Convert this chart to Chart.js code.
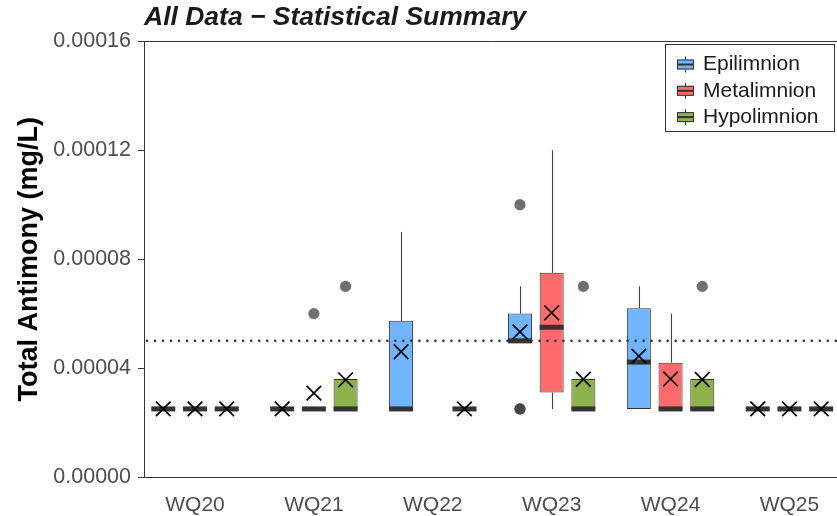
<!DOCTYPE html>
<html>
<head>
<meta charset="utf-8">
<script src="https://cdn.jsdelivr.net/npm/chart.js@4.4.1/dist/chart.umd.min.js"></script>
<style>
  html, body { margin: 0; padding: 0; background: #fff; overflow: hidden; }
  #wrap { width: 837px; height: 516px; }
</style>
</head>
<body>
<div id="wrap"><canvas id="chart"></canvas></div>
<script>
const sites = ["WQ20", "WQ21", "WQ22", "WQ23", "WQ24", "WQ25"];
const layers = ["Epilimnion", "Metalimnion", "Hypolimnion"];
const fillColors = ["#6FB5FF", "#FF6B6B", "#8DB14B"];
const guideline = 0.00005;
const yTickStep = 0.00004;

// five number summaries per site: [low whisker, q1, median, q3, high whisker]
const epiStats = [
  [2.5e-5, 2.5e-5, 2.5e-5, 2.5e-5, 2.5e-5],
  [2.5e-5, 2.5e-5, 2.5e-5, 2.5e-5, 2.5e-5],
  [2.5e-5, 2.5e-5, 2.5e-5, 5.74e-5, 9.0e-5],
  [5.0e-5, 5.0e-5, 5.0e-5, 6.0e-5, 7.0e-5],
  [2.5e-5, 2.5e-5, 4.22e-5, 6.2e-5, 7.0e-5],
  [2.5e-5, 2.5e-5, 2.5e-5, 2.5e-5, 2.5e-5]
];
const metaStats = [
  [2.5e-5, 2.5e-5, 2.5e-5, 2.5e-5, 2.5e-5],
  [2.5e-5, 2.5e-5, 2.5e-5, 2.5e-5, 2.5e-5],
  null,
  [2.5e-5, 3.1e-5, 5.5e-5, 7.5e-5, 1.2e-4],
  [2.5e-5, 2.5e-5, 2.5e-5, 4.2e-5, 6.0e-5],
  [2.5e-5, 2.5e-5, 2.5e-5, 2.5e-5, 2.5e-5]
];
const hypoStats = [
  [2.5e-5, 2.5e-5, 2.5e-5, 2.5e-5, 2.5e-5],
  [2.5e-5, 2.5e-5, 2.5e-5, 3.6e-5, 3.6e-5],
  [2.5e-5, 2.5e-5, 2.5e-5, 2.5e-5, 2.5e-5],
  [2.5e-5, 2.5e-5, 2.5e-5, 3.6e-5, 3.6e-5],
  [2.5e-5, 2.5e-5, 2.5e-5, 3.6e-5, 3.6e-5],
  [2.5e-5, 2.5e-5, 2.5e-5, 2.5e-5, 2.5e-5]
];

const epiMeans = [2.5e-5, 2.5e-5, 4.6e-5, 5.33e-5, 4.44e-5, 2.5e-5];
const metaMeans = [2.5e-5, 3.08e-5, null, 6.03e-5, 3.6e-5, 2.5e-5];
const hypoMeans = [2.5e-5, 3.57e-5, 2.5e-5, 3.59e-5, 3.58e-5, 2.5e-5];

const epiOutliers = [[], [], [], [1.0e-4, 2.5e-5, 2.5e-5], [], []];
const metaOutliers = [[], [6.0e-5], [], [], [], []];
const hypoOutliers = [[], [7.0e-5], [], [7.0e-5], [7.0e-5], []];

const allStats = [epiStats, metaStats, hypoStats];
const allMeans = [epiMeans, metaMeans, hypoMeans];
const allOutliers = [epiOutliers, metaOutliers, hypoOutliers];

const FONT = "'Liberation Sans', Arial, sans-serif";
const INK = "#333333";

const datasets = layers.map((name, k) => ({
  label: name,
  data: allStats[k]
    .map((s, i) => (s ? { x: i, y: [s[1], s[3]] } : null))
    .filter(d => d !== null),
  backgroundColor: fillColors[k],
  borderColor: INK,
  borderWidth: 1,
  borderSkipped: false,
  categoryPercentage: 0.8,
  barPercentage: 0.757
}));

const boxPlot = {
  id: "boxPlot",
  beforeDatasetsDraw(chart) {
    const ctx = chart.ctx;
    const y = chart.scales.y;
    ctx.save();
    ctx.strokeStyle = "#444";
    ctx.lineWidth = 1.1;
    chart.data.datasets.forEach((ds, k) => {
      chart.getDatasetMeta(k).data.forEach((bar, j) => {
        const s = allStats[k][ds.data[j].x];
        const x = Math.round(bar.x) + 0.5;
        ctx.beginPath();
        ctx.moveTo(x, y.getPixelForValue(s[0]));
        ctx.lineTo(x, y.getPixelForValue(s[1]));
        ctx.moveTo(x, y.getPixelForValue(s[3]));
        ctx.lineTo(x, y.getPixelForValue(s[4]));
        ctx.stroke();
      });
    });
    ctx.restore();
  },
  afterDatasetsDraw(chart) {
    const ctx = chart.ctx;
    const y = chart.scales.y;
    const area = chart.chartArea;
    ctx.save();
    // medians and outliers
    chart.data.datasets.forEach((ds, k) => {
      chart.getDatasetMeta(k).data.forEach((bar, j) => {
        const i = ds.data[j].x;
        const s = allStats[k][i];
        const half = bar.width / 2;
        ctx.fillStyle = INK;
        ctx.fillRect(bar.x - half, y.getPixelForValue(s[2]) - 2.5, bar.width, 5);
        ctx.fillStyle = "rgba(51,51,51,0.7)";
        allOutliers[k][i].forEach(v => {
          ctx.beginPath();
          ctx.arc(bar.x, y.getPixelForValue(v), 5.6, 0, Math.PI * 2);
          ctx.fill();
        });
      });
    });
    // guideline
    const gy = y.getPixelForValue(guideline);
    ctx.strokeStyle = INK;
    ctx.lineWidth = 2.6;
    ctx.lineCap = "round";
    ctx.setLineDash([0.01, 8]);
    ctx.beginPath();
    ctx.moveTo(area.left + 3, gy);
    ctx.lineTo(area.right, gy);
    ctx.stroke();
    ctx.setLineDash([]);
    ctx.lineCap = "butt";
    // means
    ctx.strokeStyle = "#000";
    ctx.lineWidth = 1.7;
    chart.data.datasets.forEach((ds, k) => {
      chart.getDatasetMeta(k).data.forEach((bar, j) => {
        const m = allMeans[k][ds.data[j].x];
        if (m === null) return;
        const py = y.getPixelForValue(m);
        const r = 7.3;
        ctx.beginPath();
        ctx.moveTo(bar.x - r, py - r);
        ctx.lineTo(bar.x + r, py + r);
        ctx.moveTo(bar.x - r, py + r);
        ctx.lineTo(bar.x + r, py - r);
        ctx.stroke();
      });
    });
    // top frame line
    ctx.strokeStyle = INK;
    ctx.lineWidth = 1;
    ctx.beginPath();
    ctx.moveTo(area.left, Math.round(area.top) + 0.5);
    ctx.lineTo(area.right, Math.round(area.top) + 0.5);
    ctx.stroke();
    ctx.restore();
  },
  afterDraw(chart) {
    // legend box inside the panel, top right
    const ctx = chart.ctx;
    ctx.save();
    ctx.fillStyle = "#fff";
    ctx.fillRect(665.5, 44.5, 169, 87);
    ctx.strokeStyle = INK;
    ctx.lineWidth = 1;
    ctx.strokeRect(665.5, 44.5, 169, 87);
    layers.forEach((name, k) => {
      const cy = 64.5 + k * 26.3;
      const cx = 685.5;
      ctx.strokeStyle = INK;
      ctx.beginPath();
      ctx.moveTo(cx, cy - 8);
      ctx.lineTo(cx, cy + 8);
      ctx.stroke();
      ctx.fillStyle = fillColors[k];
      ctx.fillRect(677, cy - 5, 17, 10);
      ctx.strokeRect(677.5, cy - 4.5, 16, 9);
      ctx.fillStyle = INK;
      ctx.fillRect(677, cy - 1, 17, 2);
      ctx.fillStyle = "#1a1a1a";
      ctx.font = "21px " + FONT;
      ctx.textBaseline = "middle";
      ctx.fillText(name, 703, cy);
    });
    ctx.restore();
  }
};

new Chart(document.getElementById("chart"), {
  type: "bar",
  data: { datasets },
  plugins: [boxPlot],
  options: {
    responsive: true,
    maintainAspectRatio: false,
    animation: false,
    layout: { padding: 0 },
    plugins: {
      legend: { display: false },
      tooltip: { enabled: false },
      title: {
        display: true,
        text: "All Data \u2212 Statistical Summary",
        align: "start",
        fullSize: false,
        color: "#1a1a1a",
        font: { family: FONT, size: 26.5, weight: "bold", style: "italic", lineHeight: 1.2 },
        padding: { top: 2, bottom: 7.5 }
      }
    },
    scales: {
      x: {
        type: "linear",
        offset: false,
        min: -0.429,
        max: 5.4,
        grid: { display: false },
        border: { display: true, color: INK, width: 1 },
        ticks: {
          stepSize: 1,
          includeBounds: false,
          padding: 8,
          color: "#4d4d4d",
          font: { family: FONT, size: 21 },
          callback: v => (Number.isInteger(v) ? sites[v] : "")
        },
        afterFit: function (scaleInstance) {
          scaleInstance.height = 39;
        }
      },
      y: {
        min: 0,
        max: 0.00016,
        grid: { drawOnChartArea: false, drawTicks: true, tickLength: 6, color: INK },
        border: { display: true, color: INK, width: 1 },
        ticks: {
          stepSize: yTickStep,
          padding: 7,
          color: "#4d4d4d",
          font: { family: FONT, size: 21.5 },
          callback: v => v.toFixed(5)
        },
        title: {
          display: true,
          text: "Total Antimony (mg/L)",
          color: "#000",
          font: { family: FONT, size: 27, weight: "bold" },
          padding: { top: 13, bottom: 0 }
        },
        afterFit: function (scaleInstance) {
          scaleInstance.width = 144;
        }
      }
    }
  }
});
</script>
</body>
</html>
